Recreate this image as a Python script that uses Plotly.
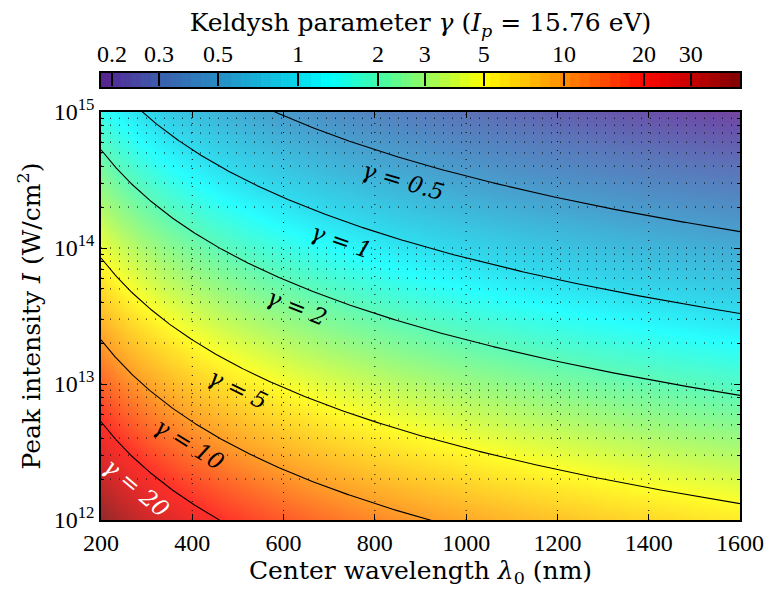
import numpy as np
import plotly.graph_objects as go

# Physical constants for the Keldysh parameter gamma = sqrt(Ip / (2 Up))
IP_EV = 15.76            # ionization potential (eV)
UP_COEFF = 9.33e-14      # ponderomotive energy Up = UP_COEFF * I[W/cm^2] * lambda[um]^2 (eV)

# Axis ranges and ticks
WL_RANGE = [200, 1600]                       # nm
WL_TICKS = [200, 400, 600, 800, 1000, 1200, 1400, 1600]
INT_DECADES = [12, 13, 14, 15]               # log10 of intensity, W/cm^2
GAMMA_TICKS = [0.2, 0.3, 0.5, 1, 2, 3, 5, 10, 20, 30]
GAMMA_TICK_TEXT = ["0.2", "0.3", "0.5", "1", "2", "3", "5", "10", "20", "30"]

# Iso-gamma curves and where their labels sit (wavelength along each curve)
GAMMA_LEVELS = [0.5, 1, 2, 5, 10, 20]
LABEL_TEXT = ["0.5", "1", "2", "5", "10", "20"]
LABEL_WL = [875, 741, 645, 520, 417, 307]
LABEL_COLOR = ["black", "black", "black", "black", "black", "white"]

# Colour map anchors, given in gamma (the map is logarithmic in gamma)
CMAP_GAMMA = [None, 0.2, 0.3, 0.5, 1, 1.3, 2, 3, 5, 10, 20, 30, None]
CMAP_COLORS = [
    "rgb(90,35,140)", "rgb(80,45,152)", "rgb(60,92,172)", "rgb(38,140,196)",
    "rgb(8,215,235)", "rgb(0,255,255)", "rgb(65,250,170)", "rgb(145,250,95)",
    "rgb(255,255,0)", "rgb(255,140,0)", "rgb(255,8,0)", "rgb(200,0,0)",
    "rgb(125,0,0)",
]


def keldysh(wl_nm, intensity):
    return np.sqrt(IP_EV / (2.0 * UP_COEFF * intensity * (wl_nm / 1000.0) ** 2))


def intensity_for(gamma, wl_nm):
    return IP_EV / (2.0 * UP_COEFF * gamma ** 2 * (wl_nm / 1000.0) ** 2)


# Field on a fine grid
wl = np.linspace(WL_RANGE[0], WL_RANGE[1], 351)
inten = np.logspace(INT_DECADES[0], INT_DECADES[-1], 301)
WW, II = np.meshgrid(wl, inten)
gam = keldysh(WW, II)
logg = np.log10(gam)
gmin, gmax = float(gam.min()), float(gam.max())
lo, hi = np.log10(gmin), np.log10(gmax)

anchors = list(CMAP_GAMMA)
anchors[0], anchors[-1] = gmin, gmax
colorscale = []
for g, c in zip(anchors, CMAP_COLORS):
    t = (np.log10(g) - lo) / (hi - lo)
    colorscale.append([float(min(max(t, 0.0), 1.0)), c])
colorscale[0][0] = 0.0
colorscale[-1][0] = 1.0

# Page geometry
W, H = 769, 601
ML, MR, MT, MB = 101, 29, 73, 81
plot_w = W - ML - MR
area_h = H - MT - MB
main_top = 1.0 - (112 - MT) / area_h
bar_bottom = 1.0 - (87 - MT) / area_h
main_h = area_h * main_top
px_per_nm = plot_w / (WL_RANGE[1] - WL_RANGE[0])
px_per_decade = main_h / (INT_DECADES[-1] - INT_DECADES[0])

TICK_FONT = dict(family="Liberation Serif", size=24, color="black")
TITLE_FONT = dict(family="DejaVu Serif", size=25, color="black")
LABEL_FAMILY = "DejaVu Serif"

fig = go.Figure()

fig.add_trace(go.Heatmap(
    x=wl, y=inten, z=logg, coloraxis="coloraxis", opacity=0.84,
    hoverinfo="skip", xaxis="x", yaxis="y",
))

# Iso-gamma curves
wl_line = np.linspace(WL_RANGE[0], WL_RANGE[1], 500)
for g in GAMMA_LEVELS:
    fig.add_trace(go.Scatter(
        x=wl_line, y=intensity_for(g, wl_line), mode="lines",
        line=dict(color="black", width=1.1), hoverinfo="skip",
        showlegend=False, xaxis="x", yaxis="y",
    ))

# Colour bar drawn as a one-row heatmap on its own log axis
n_bins = 64
edges = np.logspace(lo, hi, n_bins + 1)
centers = np.sqrt(edges[:-1] * edges[1:])
fig.add_trace(go.Heatmap(
    x=edges, y=[0, 1], z=[np.log10(centers)], coloraxis="coloraxis",
    hoverinfo="skip", xaxis="x2", yaxis="y2",
))

# Curve labels, set just below each curve and parallel to it
for g, txt, lw, col in zip(GAMMA_LEVELS, LABEL_TEXT, LABEL_WL, LABEL_COLOR):
    slope = (px_per_decade * 2.0 / (lw * np.log(10))) / px_per_nm
    theta = np.arctan(slope)
    d = 22 if g == 0.5 else 20
    fig.add_annotation(
        x=lw, y=np.log10(intensity_for(g, lw)), xref="x", yref="y",
        text=f"<i>γ = {txt}</i>", showarrow=False,
        textangle=float(np.degrees(theta)),
        xshift=float(-d * np.sin(theta)), yshift=float(-d * np.cos(theta)),
        font=dict(family=LABEL_FAMILY, size=23, color=col),
        xanchor="center", yanchor="middle",
    )

# Dotted grid drawn over the map
grid_line = dict(color="black", width=1, dash="1px,8px")
for xv in WL_TICKS[1:-1]:
    fig.add_shape(type="line", xref="x", yref="y domain", x0=xv, x1=xv,
                  y0=0, y1=1, line=grid_line, layer="above")
minor_vals = []
for dec in INT_DECADES[:-1]:
    for m in range(1, 10):
        v = m * 10.0 ** dec
        if m > 1:
            minor_vals.append(v)
        if dec == INT_DECADES[0] and m == 1:
            continue
        fig.add_shape(type="line", xref="x domain", yref="y", x0=0, x1=1,
                      y0=v, y1=v, line=grid_line, layer="above")

fig.update_layout(
    width=W, height=H,
    margin=dict(l=ML, r=MR, t=MT, b=MB, autoexpand=False),
    paper_bgcolor="white", plot_bgcolor="white",
    showlegend=False,
    font=TICK_FONT,
    coloraxis=dict(colorscale=colorscale, cmin=lo, cmax=hi, showscale=False),
    xaxis=dict(
        domain=[0, 1], anchor="y", range=WL_RANGE, automargin=False,
        tickvals=WL_TICKS, ticks="inside", ticklen=6, tickwidth=1, tickcolor="black",
        showline=True, mirror="allticks", linecolor="black", linewidth=1.5,
        showgrid=False, zeroline=False, layer="above traces",
        tickfont=TICK_FONT,
        title=dict(text="Center wavelength <i>λ</i><sub>0</sub> (nm)", font=TITLE_FONT, standoff=6),
    ),
    yaxis=dict(
        domain=[0, main_top], anchor="x", type="log", automargin=False,
        range=[INT_DECADES[0], INT_DECADES[-1]],
        tickvals=[10.0 ** d for d in INT_DECADES],
        ticktext=[f"10<sup>{d}</sup>" for d in INT_DECADES],
        ticks="inside", ticklen=6, tickwidth=1, tickcolor="black",
        minor=dict(tickvals=minor_vals, ticks="inside", ticklen=3, tickcolor="black",
                   tickwidth=1, showgrid=False),
        showline=True, mirror="allticks", linecolor="black", linewidth=1.5,
        showgrid=False, zeroline=False, layer="above traces",
        tickfont=TICK_FONT,
        title=dict(text="Peak intensity <i>I</i> (W/cm<sup>2</sup>)", font=TITLE_FONT, standoff=6),
    ),
    xaxis2=dict(
        domain=[0, 1], anchor="y2", side="top", type="log", range=[lo, hi],
        automargin=False,
        tickvals=GAMMA_TICKS, ticktext=GAMMA_TICK_TEXT,
        ticks="inside", ticklen=13, tickwidth=1.5, tickcolor="black",
        showline=True, mirror=True, linecolor="black", linewidth=1.5,
        showgrid=False, zeroline=False, layer="above traces",
        tickfont=TICK_FONT, ticklabelstandoff=0,
        title=dict(text="Keldysh parameter <i>γ</i> (<i>I<sub>p</sub></i> = 15.76 eV)",
                   font=TITLE_FONT, standoff=0),
    ),
    yaxis2=dict(
        domain=[bar_bottom, 1], anchor="x2", range=[0, 1], automargin=False,
        showticklabels=False, ticks="", showgrid=False, zeroline=False,
        showline=True, mirror=True, linecolor="black", linewidth=1.5,
    ),
)

fig.write_html("out.html")
